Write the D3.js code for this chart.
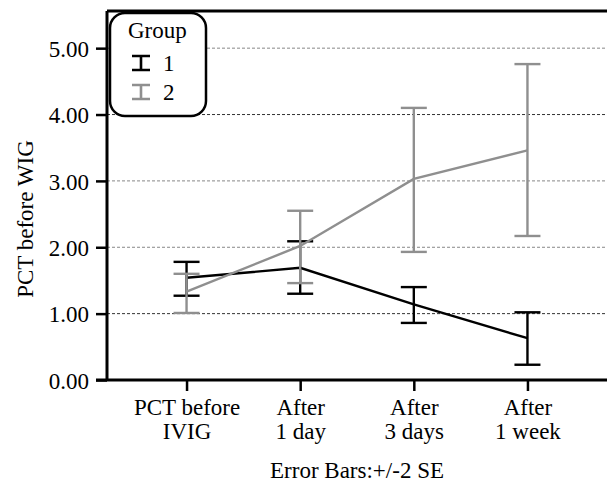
<!DOCTYPE html>
<html>
<head>
<meta charset="utf-8">
<script src="https://cdn.jsdelivr.net/npm/d3@7"></script>
</head>
<body style="margin:0;background:#fff">
<svg id="chart" width="607" height="483"></svg>
<script>
// categories (two-line labels)
var categories = ["PCT before\nIVIG", "After\n1 day", "After\n3 days", "After\n1 week"]
var yTicks = [0, 1, 2, 3, 4, 5]

// group 1 (black): mean, mean-2SE, mean+2SE
var group1Mean = [1.54, 1.69, 1.14, 0.63]
var group1Low = [1.27, 1.30, 0.86, 0.23]
var group1High = [1.78, 2.09, 1.40, 1.02]

// group 2 (grey)
var group2Mean = [1.33, 2.02, 3.03, 3.46]
var group2Low = [1.01, 1.46, 1.93, 2.17]
var group2High = [1.60, 2.55, 4.10, 4.76]

var groups = [
    { name: "1", color: "#000", mean: group1Mean, low: group1Low, high: group1High },
    { name: "2", color: "#8f8f8f", mean: group2Mean, low: group2Low, high: group2High }
]

var FONT = "'Liberation Serif', 'Times New Roman', serif"

var margin = { top: 11, right: 0, bottom: 103, left: 107 },
    width = 607 - margin.left - margin.right,
    height = 483 - margin.top - margin.bottom

var svg = d3.select("#chart")
    .attr("font-family", FONT)
    .attr("font-size", 23)

var g = svg.append("g")
    .attr("transform", "translate(" + margin.left + "," + margin.top + ")")

var x = d3.scalePoint()
    .domain(categories)
    .range([0, width])
    .padding(0.7)

var y = d3.scaleLinear()
    .domain([0, 5.56])
    .range([height, 0])

// gridlines
g.selectAll(".grid")
    .data(yTicks.filter(d => d > 0))
    .enter().append("line")
    .attr("x1", 0)
    .attr("x2", width)
    .attr("y1", d => y(d))
    .attr("y2", d => y(d))
    .attr("stroke", d => (d == 1 || d == 4) ? "#333" : "#888")
    .attr("stroke-width", 1)
    .attr("stroke-dasharray", "3,2")

// top border
g.append("line")
    .attr("x1", 0).attr("x2", width)
    .attr("y1", 0).attr("y2", 0)
    .attr("stroke", "#000")
    .attr("stroke-width", 3)

// lines + error bars
var line = d3.line()
    .x((d, i) => x(categories[i]))
    .y(d => y(d))

var capW = 13
groups.forEach(function (grp) {
    g.append("path")
        .datum(grp.mean)
        .attr("d", line)
        .attr("fill", "none")
        .attr("stroke", grp.color)
        .attr("stroke-width", 2.4)

    var eb = g.append("g").attr("stroke", grp.color).attr("stroke-width", 2.4)
    categories.forEach(function (c, i) {
        eb.append("line")
            .attr("x1", x(c)).attr("x2", x(c))
            .attr("y1", y(grp.low[i])).attr("y2", y(grp.high[i]))
        eb.append("line")
            .attr("x1", x(c) - capW).attr("x2", x(c) + capW)
            .attr("y1", y(grp.low[i])).attr("y2", y(grp.low[i]))
        eb.append("line")
            .attr("x1", x(c) - capW).attr("x2", x(c) + capW)
            .attr("y1", y(grp.high[i])).attr("y2", y(grp.high[i]))
    })
})

// y axis
var yAxis = g.append("g")
    .call(d3.axisLeft(y).tickValues(yTicks).tickFormat(d3.format(".2f")).tickSize(11).tickPadding(7))
    .attr("font-family", FONT)
    .attr("font-size", 23)
yAxis.select(".domain").attr("stroke-width", 3).attr("d", "M0," + height + "V0")
yAxis.selectAll(".tick line").attr("stroke-width", 2.5)
yAxis.selectAll("text").attr("fill", "#000").attr("dy", "0.36em")

// x axis
var xAxis = g.append("g")
    .attr("transform", "translate(0," + height + ")")
    .call(d3.axisBottom(x).tickSize(11).tickFormat(""))
    .attr("font-family", FONT)
    .attr("font-size", 23)
xAxis.select(".domain").attr("stroke-width", 3).attr("d", "M-11,0H" + width)
xAxis.selectAll(".tick line").attr("stroke-width", 2.5)

xAxis.selectAll(".tick").append("text")
    .attr("fill", "#000")
    .attr("text-anchor", "middle")
    .selectAll("tspan")
    .data(d => d.split("\n"))
    .enter().append("tspan")
    .attr("x", 0)
    .attr("y", (d, i) => 35 + i * 24)
    .text(d => d)

// axis titles
svg.append("text")
    .attr("transform", "translate(33,219) rotate(-90)")
    .attr("text-anchor", "middle")
    .text("PCT before WIG")

svg.append("text")
    .attr("x", 357)
    .attr("y", 478)
    .attr("text-anchor", "middle")
    .text("Error Bars:+/-2 SE")

// legend
var legend = svg.append("g").attr("transform", "translate(110,13)")
legend.append("rect")
    .attr("width", 96)
    .attr("height", 103)
    .attr("rx", 15)
    .attr("fill", "#fff")
    .attr("stroke", "#000")
    .attr("stroke-width", 2.5)
legend.append("text")
    .attr("x", 18).attr("y", 25)
    .text("Group")

var items = legend.selectAll(".item")
    .data(groups)
    .enter().append("g")
    .attr("transform", (d, i) => "translate(0," + (50 + i * 29) + ")")
items.append("path")
    .attr("d", "M22,-7H40M31,-7V7M22,7H40")
    .attr("fill", "none")
    .attr("stroke", d => d.color)
    .attr("stroke-width", 2.6)
items.append("text")
    .attr("x", 53).attr("y", 8)
    .text(d => d.name)
</script>
</body>
</html>
